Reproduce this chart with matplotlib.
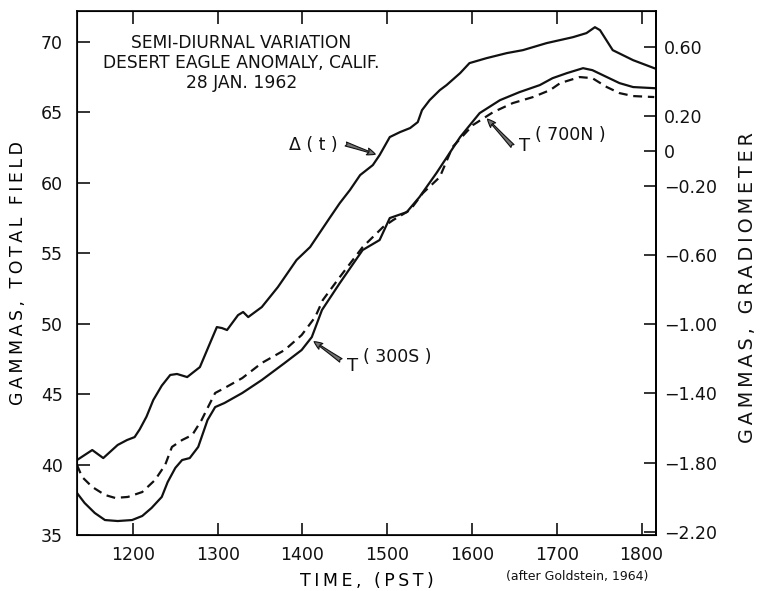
import matplotlib
matplotlib.use("Agg")
import matplotlib.pyplot as plt

plt.rcParams["font.family"] = ["DejaVu Sans"]

# time in decimal hours (PST), field values in gammas
delta_t = [11.34, 11.52, 11.65, 11.82, 11.93, 12.02, 12.08, 12.16, 12.24, 12.34,
           12.44, 12.52, 12.64, 12.79, 12.91, 12.99, 13.05, 13.11, 13.24, 13.30,
           13.36, 13.52, 13.71, 13.93, 14.09, 14.32, 14.44, 14.56, 14.68, 14.83,
           14.91, 15.03, 15.15, 15.27, 15.36, 15.41, 15.50, 15.62, 15.70, 15.86,
           15.97, 16.17, 16.41, 16.60, 16.88, 17.19, 17.35, 17.45, 17.51, 17.66,
           17.90, 18.15]
delta_v = [40.32, 41.03, 40.46, 41.39, 41.74, 41.95, 42.50, 43.40, 44.58, 45.60,
           46.36, 46.43, 46.21, 46.92, 48.63, 49.76, 49.69, 49.55, 50.61, 50.83,
           50.47, 51.18, 52.60, 54.52, 55.44, 57.50, 58.56, 59.49, 60.55, 61.26,
           61.97, 63.25, 63.60, 63.89, 64.31, 65.16, 65.87, 66.58, 66.94, 67.79,
           68.50, 68.85, 69.21, 69.42, 69.92, 70.34, 70.63, 71.05, 70.84, 69.42,
           68.71, 68.14]

s300_t = [11.34, 11.43, 11.55, 11.67, 11.82, 11.99, 12.11, 12.22, 12.34, 12.41,
          12.50, 12.58, 12.67, 12.77, 12.88, 12.97, 13.08, 13.29, 13.52, 13.79,
          13.99, 14.11, 14.23, 14.44, 14.71, 14.91, 15.03, 15.23, 15.38, 15.58,
          15.86, 16.09, 16.33, 16.56, 16.80, 16.95, 17.12, 17.31, 17.42, 17.59,
          17.74, 17.90, 18.15]
s300_v = [37.98, 37.27, 36.56, 36.06, 35.99, 36.06, 36.35, 36.92, 37.70, 38.76,
          39.76, 40.32, 40.46, 41.25, 43.16, 44.08, 44.37, 45.08, 46.00, 47.21,
          48.13, 49.05, 50.97, 52.88, 55.23, 55.94, 57.50, 57.92, 58.99, 60.69,
          63.25, 64.95, 65.87, 66.44, 66.94, 67.43, 67.79, 68.14, 68.00, 67.51,
          67.08, 66.80, 66.72]

n700_t = [11.34, 11.40, 11.52, 11.67, 11.79, 11.94, 12.11, 12.26, 12.38, 12.46,
          12.58, 12.70, 12.81, 12.88, 12.97, 13.08, 13.29, 13.52, 13.79, 13.99,
          14.15, 14.24, 14.44, 14.71, 14.95, 15.07, 15.27, 15.42, 15.62, 15.77,
          16.01, 16.25, 16.48, 16.72, 16.92, 17.04, 17.27, 17.42, 17.59, 17.74,
          17.90, 18.15]
n700_v = [39.97, 39.12, 38.41, 37.84, 37.63, 37.70, 38.05, 38.90, 39.97, 41.25,
          41.74, 42.10, 43.16, 44.01, 45.08, 45.43, 46.14, 47.21, 48.13, 49.19,
          50.47, 51.68, 53.31, 55.44, 56.86, 57.36, 58.07, 59.27, 60.41, 62.54,
          64.10, 65.02, 65.66, 66.09, 66.58, 67.08, 67.51, 67.43, 66.80, 66.37,
          66.16, 66.09]

x_ticks = [12, 13, 14, 15, 16, 17, 18]
x_labels = ["1200", "1300", "1400", "1500", "1600", "1700", "1800"]
left_ticks = [35, 40, 45, 50, 55, 60, 65, 70]
right_ticks = [0.6, 0.2, 0, -0.2, -0.6, -1.0, -1.4, -1.8, -2.2]


def spaced(s):
    return "\u2009".join(s)


def grad_label(v):
    if v == 0:
        return "0"
    s = "%.2f" % abs(v)
    return s if v > 0 else "\u2212" + s


ink = "#111111"
fig = plt.figure(figsize=(7.6, 5.91), dpi=100)
ax = fig.add_axes([0.1013, 0.0948, 0.7618, 0.8866])

line_kw = dict(color=ink, lw=1.6, solid_joinstyle="round", dash_joinstyle="round")
ax.plot(delta_t, delta_v, **line_kw)
ax.plot(s300_t, s300_v, **line_kw)
ax.plot(n700_t, n700_v, ls=(0, (4, 2.6)), **line_kw)

ax.set_xlim(11.34, 18.17)
ax.set_ylim(35, 72.2)
ax.set_xticks(x_ticks)
ax.set_xticklabels(x_labels)
ax.set_yticks(left_ticks)
ax.tick_params(direction="in", length=9, width=1.2, labelsize=12.5, colors=ink)
ax.tick_params(axis="x", top=True, pad=8)
ax.tick_params(axis="y", pad=10)
for sp in ax.spines.values():
    sp.set_linewidth(1.3)
    sp.set_color(ink)

ax2 = ax.twinx()
ax2.set_ylim(-2.217, 0.808)
ax2.set_yticks(right_ticks)
ax2.set_yticklabels([grad_label(v) for v in right_ticks])
ax2.tick_params(direction="in", length=9, width=1.2, labelsize=12.5, pad=6, colors=ink)
ax2.spines["right"].set_linewidth(1.3)

ax.set_xlabel(spaced("TIME, (PST)"), fontsize=12.5, labelpad=6)
ax.set_ylabel(spaced("GAMMAS, TOTAL FIELD"), fontsize=12.5, labelpad=10)
fig.text(0.983, 0.514, spaced("GAMMAS, GRADIOMETER"), rotation=90,
         fontsize=13.8, ha="center", va="center", color=ink)

ax.text(13.28, 68.5, "SEMI-DIURNAL VARIATION\nDESERT EAGLE ANOMALY, CALIF.\n28 JAN. 1962",
        ha="center", va="center", fontsize=12.3, linespacing=1.15, color=ink)

arrow_kw = dict(arrowstyle="fancy,head_length=0.6,head_width=0.5,tail_width=0.3",
                fc="0.45", ec=ink, lw=0.8)
ax.annotate("", xy=(14.89, 61.97), xytext=(14.48, 62.82), arrowprops=arrow_kw)
ax.text(14.41, 62.7, "\u0394 ( t )", ha="right", va="center", fontsize=12.5, color=ink)

ax.annotate("", xy=(16.16, 64.67), xytext=(16.50, 62.47), arrowprops=arrow_kw)
ax.text(16.55, 62.6, "T", ha="left", va="center", fontsize=13, color=ink)
ax.text(16.74, 63.4, "( 700N )", ha="left", va="center", fontsize=12.5, color=ink)

ax.annotate("", xy=(14.11, 48.84), xytext=(14.48, 47.28), arrowprops=arrow_kw)
ax.text(14.52, 47.0, "T", ha="left", va="center", fontsize=13, color=ink)
ax.text(14.71, 47.6, "( 300S )", ha="left", va="center", fontsize=12.5, color=ink)

fig.text(0.853, 0.024, "(after Goldstein, 1964)", ha="right", va="center",
         fontsize=9, color=ink)

fig.savefig("out.png", dpi=100, facecolor="white")
